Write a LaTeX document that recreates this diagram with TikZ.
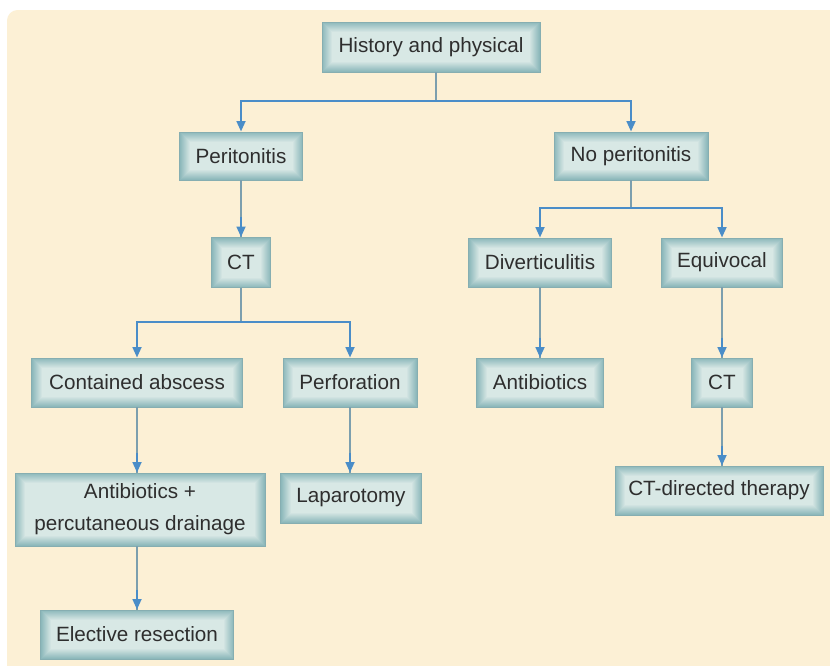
\documentclass[tikz,border=0pt]{standalone}
\usepackage{fontspec}
\setmainfont{Liberation Sans}
\usetikzlibrary{arrows.meta,calc}
\definecolor{bgbeige}{HTML}{FCF0D5}
\definecolor{boxout}{HTML}{8DB8BB}
\definecolor{boxin}{HTML}{D8E8E5}
\definecolor{boxedge}{HTML}{86AEB1}
\definecolor{stemc}{HTML}{7C9FAE}
\definecolor{arrc}{HTML}{4A8DC8}
\definecolor{txt}{HTML}{2E2E2E}
\begin{document}
\begin{tikzpicture}[x=0.75pt,y=-0.75pt,
  box/.style={draw=boxedge, line width=0.5pt, fill=boxout, inner sep=0pt, align=center,
    font=\fontsize{15.5}{24}\selectfont, text=txt,
    path picture={\foreach \i in {1,...,10}{\pgfmathtruncatemacro\m{\i*10}
      \fill[boxin!\m!boxout] ([shift={({\i*0.75pt},{\i*0.75pt})}]path picture bounding box.south west)
        rectangle ([shift={({-\i*0.75pt},{-\i*0.75pt})}]path picture bounding box.north east);}}},
  bw/.style={minimum width=#1*0.75pt},
  bh/.style={minimum height=#1*0.75pt},
  stem/.style={draw=stemc, line width=1.9pt},
  bar/.style={draw=arrc, line width=1.9pt, -{Triangle[length=8pt,width=6.5pt]}}
]
\useasboundingbox (0,0) rectangle (830,665);
\clip (0,0) rectangle (830,665);
\fill[white] (0,0) rectangle (830,665);
\fill[bgbeige, rounded corners=8pt] (7,10) rectangle (860,700);

% nodes
\node[box,bw=218,bh=50] (hp) at (431,47) {History and physical};
\node[box,bw=123,bh=48] (per) at (241,156) {Peritonitis};
\node[box,bw=154,bh=48] (nop) at (631,156) {No peritonitis};
\node[box,bw=59,bh=50] (cta) at (241,262.5) {CT};
\node[box,bw=143,bh=49] (div) at (540,262.5) {Diverticulitis};
\node[box,bw=121,bh=49] (equ) at (722,262.5) {Equivocal};
\node[box,bw=211,bh=49] (con) at (137,382.5) {Contained abscess};
\node[box,bw=134,bh=49] (perf) at (350,382.5) {Perforation};
\node[box,bw=127,bh=49] (abx) at (540,382.5) {Antibiotics};
\node[box,bw=61,bh=49] (ctb) at (722,382.5) {CT};
\node[box,bw=250,bh=73] (abxd) at (140,509.5) {Antibiotics +\\percutaneous drainage};
\node[box,bw=141,bh=50] (lap) at (351,498) {Laparotomy};
\node[box,bw=208,bh=49] (ctd) at (719,490.5) {CT-directed therapy};
\node[box,bw=193,bh=49] (er) at (137,634.5) {Elective resection};

% branching connectors
\coordinate (j1) at (436,101);
\draw[stem] (hp.south -| j1) -- (j1);
\draw[bar] (j1) -| (per.north);
\draw[bar] (j1) -| (nop.north);

\coordinate (j2) at (241,322);
\draw[stem] (cta.south -| j2) -- (j2);
\draw[bar] (j2) -| (con.north);
\draw[bar] (j2) -| (perf.north);

\coordinate (j3) at (631,208);
\draw[stem] (nop.south -| j3) -- (j3);
\draw[bar] (j3) -| (div.north);
\draw[bar] (j3) -| (equ.north);

% straight connectors
\draw[stem] (per.south) -- (cta.north);
\draw[bar] ($(cta.north)+(0,-20)$) -- (cta.north);

\draw[stem] (div.south) -- (abx.north);
\draw[bar] ($(abx.north)+(0,-20)$) -- (abx.north);

\draw[stem] (equ.south) -- (ctb.north);
\draw[bar] ($(ctb.north)+(0,-20)$) -- (ctb.north);

\draw[stem] (con.south) -- (con.south |- abxd.north);
\draw[bar] ($(con.south |- abxd.north)+(0,-20)$) -- (con.south |- abxd.north);

\draw[stem] (perf.south) -- (perf.south |- lap.north);
\draw[bar] ($(perf.south |- lap.north)+(0,-20)$) -- (perf.south |- lap.north);

\draw[stem] (ctb.south) -- (ctb.south |- ctd.north);
\draw[bar] ($(ctb.south |- ctd.north)+(0,-20)$) -- (ctb.south |- ctd.north);

\draw[stem] (er.north |- abxd.south) -- (er.north);
\draw[bar] ($(er.north)+(0,-20)$) -- (er.north);
\end{tikzpicture}
\end{document}
